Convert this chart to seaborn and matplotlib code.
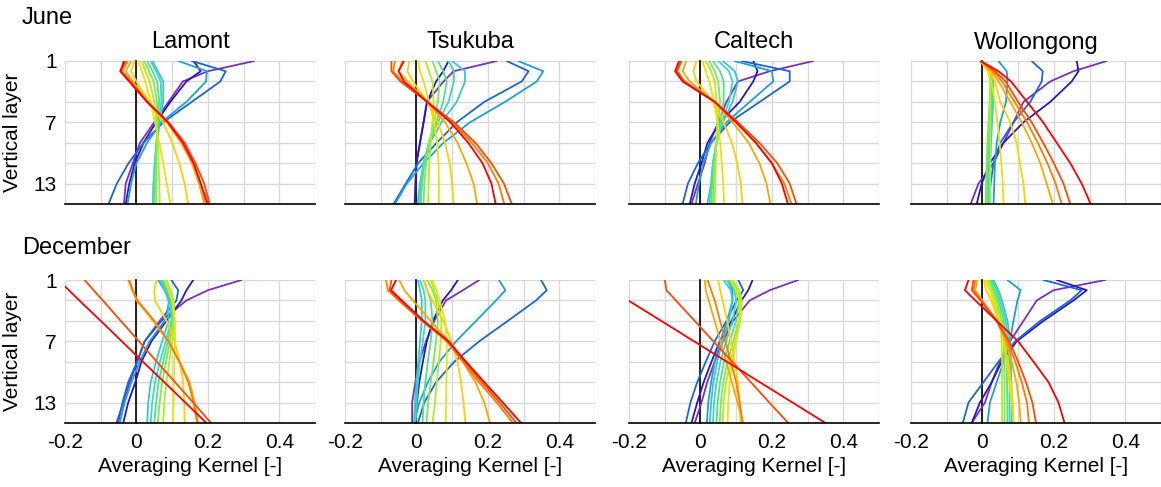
import numpy as np
import pandas as pd
import matplotlib
matplotlib.use("Agg")
import matplotlib.pyplot as plt
import seaborn as sns

# ---------------- data ----------------
layers = [1, 2, 3, 5, 7, 9, 11, 13, 15]
sites = ["Lamont", "Tsukuba", "Caltech", "Wollongong"]
months = ["June", "December"]
xticks_labelled = [-0.2, 0, 0.2, 0.4]
yticks_labelled = [1, 7, 13]

colors = ["#7b2fbe", "#2b14c8", "#1a66d8", "#1aa0e0", "#3cc4d6",
          "#40d8b8", "#50e090", "#7ee858", "#b0ee20", "#e6e600",
          "#ffd000", "#ffa500", "#ff7a00", "#ff4a00", "#ff0000"]

lamont_june = [
    [0.33, 0.20, 0.13, 0.09, 0.05, 0.01, -0.01, -0.03, -0.035],
    [0.16, 0.18, 0.14, 0.095, 0.055, 0.02, -0.005, -0.02, -0.03],
    [0.155, 0.25, 0.235, 0.155, 0.075, 0.02, -0.022, -0.055, -0.078],
    [0.118, 0.197, 0.195, 0.14, 0.07, 0.03, 0.0, -0.015, -0.025],
    [0.045, 0.06, 0.075, 0.075, 0.065, 0.058, 0.052, 0.048, 0.046],
    [0.04, 0.055, 0.068, 0.07, 0.062, 0.056, 0.051, 0.048, 0.047],
    [0.03, 0.045, 0.058, 0.064, 0.06, 0.056, 0.052, 0.05, 0.049],
    [0.022, 0.035, 0.048, 0.058, 0.058, 0.057, 0.056, 0.055, 0.055],
    [0.015, 0.025, 0.037, 0.05, 0.056, 0.06, 0.062, 0.064, 0.065],
    [0.005, 0.015, 0.025, 0.04, 0.052, 0.064, 0.075, 0.085, 0.095],
    [-0.005, -0.015, 0.0, 0.035, 0.075, 0.1, 0.12, 0.135, 0.145],
    [-0.015, -0.03, -0.01, 0.032, 0.085, 0.125, 0.155, 0.175, 0.19],
    [-0.025, -0.04, -0.015, 0.03, 0.088, 0.13, 0.16, 0.18, 0.195],
    [-0.03, -0.045, -0.02, 0.03, 0.09, 0.135, 0.165, 0.19, 0.205],
    [-0.035, -0.045, -0.02, 0.03, 0.088, 0.13, 0.16, 0.18, 0.2],
]
tsukuba_june = [
    [0.225, 0.104, 0.076, 0.029, 0.02, 0.01, 0.0, -0.003, -0.004],
    [0.09, 0.075, 0.055, 0.03, 0.02, 0.01, 0.0, -0.002, -0.005],
    [0.253, 0.314, 0.295, 0.19, 0.113, 0.057, 0.005, -0.03, -0.064],
    [0.285, 0.355, 0.337, 0.248, 0.15, 0.076, 0.02, -0.027, -0.06],
    [0.1, 0.136, 0.136, 0.113, 0.07, 0.038, 0.02, 0.01, 0.003],
    [0.09, 0.105, 0.105, 0.09, 0.06, 0.035, 0.02, 0.012, 0.008],
    [0.06, 0.075, 0.085, 0.075, 0.055, 0.035, 0.022, 0.016, 0.012],
    [0.045, 0.055, 0.065, 0.06, 0.05, 0.035, 0.027, 0.022, 0.02],
    [0.025, 0.035, 0.045, 0.048, 0.045, 0.04, 0.036, 0.034, 0.033],
    [0.005, 0.01, 0.02, 0.035, 0.05, 0.058, 0.062, 0.063, 0.063],
    [-0.02, -0.025, -0.01, 0.03, 0.06, 0.08, 0.093, 0.1, 0.104],
    [-0.04, -0.05, -0.025, 0.03, 0.08, 0.115, 0.14, 0.16, 0.17],
    [-0.06, -0.065, -0.04, 0.03, 0.1, 0.155, 0.2, 0.23, 0.246],
    [-0.07, -0.07, -0.045, 0.03, 0.105, 0.165, 0.21, 0.245, 0.267],
    [-0.035, -0.05, -0.035, 0.03, 0.095, 0.145, 0.185, 0.21, 0.222],
]
caltech_june = [
    [0.316, 0.194, 0.105, 0.073, 0.05, 0.026, 0.012, -0.007, -0.025],
    [0.148, 0.16, 0.148, 0.11, 0.054, 0.02, 0.003, -0.016, -0.03],
    [0.115, 0.25, 0.25, 0.166, 0.082, 0.03, -0.007, -0.035, -0.05],
    [0.096, 0.2, 0.204, 0.138, 0.073, 0.03, 0.008, -0.004, -0.013],
    [0.063, 0.096, 0.105, 0.09, 0.063, 0.045, 0.035, 0.03, 0.019],
    [0.05, 0.08, 0.09, 0.08, 0.06, 0.045, 0.035, 0.03, 0.025],
    [0.035, 0.055, 0.065, 0.065, 0.055, 0.045, 0.038, 0.033, 0.03],
    [0.025, 0.04, 0.05, 0.055, 0.05, 0.045, 0.04, 0.037, 0.035],
    [0.015, 0.03, 0.04, 0.045, 0.047, 0.045, 0.043, 0.041, 0.04],
    [0.005, 0.015, 0.025, 0.038, 0.048, 0.055, 0.06, 0.064, 0.066],
    [-0.011, -0.02, -0.01, 0.035, 0.065, 0.088, 0.103, 0.113, 0.118],
    [-0.04, -0.05, -0.03, 0.04, 0.09, 0.135, 0.165, 0.185, 0.196],
    [-0.055, -0.068, -0.045, 0.04, 0.1, 0.155, 0.2, 0.235, 0.255],
    [-0.053, -0.065, -0.045, 0.04, 0.105, 0.165, 0.215, 0.25, 0.269],
    [-0.06, -0.071, -0.05, 0.04, 0.1, 0.155, 0.2, 0.228, 0.245],
]
wollongong_june = [
    [0.348, 0.255, 0.19, 0.115, 0.087, 0.059, 0.031, -0.011, -0.033],
    [0.264, 0.269, 0.25, 0.19, 0.115, 0.059, 0.021, -0.002, -0.016],
    [0.138, 0.169, 0.166, 0.134, 0.087, 0.05, 0.031, 0.023, 0.017],
    [0.045, 0.068, 0.07, 0.066, 0.05, 0.04, 0.035, 0.033, 0.031],
    [-0.005, 0.025, 0.03, 0.03, 0.027, 0.024, 0.022, 0.021, 0.02],
    [-0.005, 0.022, 0.027, 0.027, 0.024, 0.021, 0.019, 0.018, 0.017],
    [-0.005, 0.02, 0.024, 0.023, 0.02, 0.017, 0.015, 0.013, 0.012],
    [-0.005, 0.018, 0.022, 0.02, 0.017, 0.014, 0.012, 0.01, 0.009],
    [-0.005, 0.016, 0.022, 0.022, 0.022, 0.022, 0.022, 0.022, 0.022],
    [-0.005, 0.015, 0.025, 0.035, 0.042, 0.048, 0.053, 0.057, 0.059],
    [-0.005, 0.02, 0.035, 0.05, 0.078, 0.096, 0.105, 0.115, 0.12],
    [-0.005, 0.025, 0.045, 0.078, 0.11, 0.138, 0.162, 0.18, 0.197],
    [-0.005, 0.03, 0.055, 0.09, 0.125, 0.155, 0.182, 0.205, 0.222],
    [-0.005, 0.035, 0.065, 0.1, 0.138, 0.17, 0.2, 0.227, 0.246],
    [-0.005, 0.045, 0.08, 0.125, 0.17, 0.208, 0.246, 0.278, 0.303],
]
lamont_dec = [
    [0.294, 0.2, 0.14, 0.07, 0.023, 0.002, -0.019, -0.037, -0.056],
    [0.159, 0.14, 0.126, 0.084, 0.042, 0.014, -0.003, -0.023, -0.037],
    [0.098, 0.117, 0.112, 0.065, 0.023, 0.002, -0.023, -0.039, -0.051],
    [0.061, 0.079, 0.093, 0.079, 0.037, 0.009, -0.014, -0.033, -0.047],
    [0.065, 0.08, 0.09, 0.09, 0.072, 0.055, 0.04, 0.033, 0.03],
    [0.07, 0.085, 0.095, 0.098, 0.082, 0.066, 0.052, 0.044, 0.04],
    [0.075, 0.09, 0.1, 0.1, 0.088, 0.075, 0.062, 0.055, 0.05],
    [0.08, 0.092, 0.102, 0.103, 0.094, 0.083, 0.072, 0.065, 0.06],
    [0.085, 0.095, 0.105, 0.106, 0.1, 0.092, 0.084, 0.078, 0.075],
    [0.08, 0.09, 0.1, 0.108, 0.108, 0.106, 0.105, 0.104, 0.103],
    [0.056, 0.05, 0.052, 0.084, 0.107, 0.121, 0.131, 0.134, 0.135],
    [-0.023, -0.012, 0.0, 0.047, 0.089, 0.121, 0.149, 0.163, 0.173],
    [-0.02, -0.01, 0.003, 0.05, 0.09, 0.12, 0.145, 0.16, 0.17],
    [-0.145, -0.12, -0.094, -0.044, 0.007, 0.057, 0.108, 0.159, 0.209],
    [-0.219, -0.189, -0.16, -0.1, -0.041, 0.018, 0.078, 0.137, 0.196],
]
tsukuba_dec = [
    [0.176, 0.13, 0.083, 0.05, 0.027, 0.008, -0.003, -0.012, -0.012],
    [0.116, 0.097, 0.074, 0.046, 0.029, 0.018, 0.008, 0.001, -0.003],
    [0.349, 0.365, 0.335, 0.256, 0.176, 0.106, 0.055, 0.022, 0.004],
    [0.231, 0.249, 0.223, 0.167, 0.111, 0.064, 0.032, 0.008, -0.006],
    [0.004, 0.01, 0.015, 0.015, 0.01, 0.005, 0.0, -0.004, -0.007],
    [0.01, 0.02, 0.025, 0.025, 0.018, 0.01, 0.004, 0.0, -0.003],
    [0.02, 0.03, 0.04, 0.045, 0.04, 0.032, 0.025, 0.02, 0.017],
    [0.03, 0.045, 0.055, 0.06, 0.055, 0.048, 0.04, 0.033, 0.028],
    [0.04, 0.05, 0.06, 0.07, 0.068, 0.063, 0.057, 0.052, 0.045],
    [0.045, 0.055, 0.065, 0.08, 0.085, 0.085, 0.084, 0.083, 0.082],
    [0.022, 0.03, 0.045, 0.075, 0.098, 0.115, 0.125, 0.132, 0.137],
    [-0.048, -0.034, -0.01, 0.04, 0.09, 0.13, 0.165, 0.19, 0.206],
    [-0.085, -0.08, -0.05, 0.015, 0.085, 0.13, 0.175, 0.225, 0.27],
    [-0.07, -0.075, -0.046, 0.018, 0.088, 0.135, 0.183, 0.233, 0.28],
    [-0.057, -0.071, -0.041, 0.02, 0.09, 0.139, 0.19, 0.242, 0.293],
]
caltech_dec = [
    [0.274, 0.194, 0.138, 0.092, 0.063, 0.04, 0.019, 0.003, -0.016],
    [0.146, 0.134, 0.115, 0.087, 0.054, 0.031, 0.009, -0.009, -0.025],
    [0.106, 0.12, 0.101, 0.073, 0.04, 0.015, -0.009, -0.028, -0.041],
    [0.075, 0.09, 0.09, 0.075, 0.055, 0.04, 0.03, 0.022, 0.018],
    [0.065, 0.085, 0.09, 0.08, 0.062, 0.047, 0.036, 0.03, 0.026],
    [0.075, 0.095, 0.1, 0.09, 0.072, 0.056, 0.045, 0.038, 0.035],
    [0.08, 0.1, 0.108, 0.1, 0.082, 0.066, 0.055, 0.048, 0.045],
    [0.085, 0.105, 0.113, 0.108, 0.092, 0.076, 0.064, 0.057, 0.054],
    [0.09, 0.108, 0.116, 0.112, 0.098, 0.084, 0.072, 0.065, 0.062],
    [0.085, 0.1, 0.11, 0.11, 0.1, 0.09, 0.082, 0.078, 0.076],
    [0.05, 0.055, 0.062, 0.075, 0.085, 0.095, 0.105, 0.11, 0.112],
    [0.012, 0.015, 0.023, 0.04, 0.056, 0.072, 0.088, 0.104, 0.12],
    [0.02, 0.03, 0.04, 0.055, 0.07, 0.085, 0.1, 0.11, 0.118],
    [-0.1, -0.095, -0.069, -0.016, 0.036, 0.089, 0.141, 0.193, 0.246],
    [-0.295, -0.248, -0.202, -0.11, -0.018, 0.074, 0.166, 0.258, 0.35],
]
wollongong_dec = [
    [0.344, 0.199, 0.152, 0.115, 0.077, 0.049, 0.026, 0.007, -0.03],
    [0.208, 0.292, 0.255, 0.171, 0.096, 0.054, 0.026, -0.007, -0.03],
    [0.171, 0.278, 0.246, 0.162, 0.092, 0.045, 0.003, -0.039, -0.055],
    [0.07, 0.107, 0.098, 0.087, 0.077, 0.059, 0.04, 0.021, 0.014],
    [0.031, 0.045, 0.055, 0.07, 0.078, 0.08, 0.081, 0.082, 0.082],
    [0.027, 0.04, 0.05, 0.065, 0.073, 0.075, 0.076, 0.076, 0.076],
    [0.023, 0.035, 0.045, 0.06, 0.066, 0.068, 0.069, 0.07, 0.07],
    [0.02, 0.03, 0.04, 0.055, 0.06, 0.061, 0.062, 0.062, 0.062],
    [0.015, 0.025, 0.035, 0.05, 0.054, 0.055, 0.055, 0.055, 0.055],
    [0.01, 0.02, 0.03, 0.048, 0.06, 0.068, 0.075, 0.082, 0.087],
    [0.005, 0.01, 0.025, 0.045, 0.06, 0.072, 0.08, 0.085, 0.087],
    [-0.015, -0.02, 0.0, 0.04, 0.065, 0.082, 0.095, 0.103, 0.107],
    [-0.02, -0.025, -0.003, 0.04, 0.07, 0.092, 0.11, 0.125, 0.13],
    [-0.025, -0.03, -0.005, 0.04, 0.075, 0.1, 0.122, 0.14, 0.15],
    [-0.039, -0.049, -0.02, 0.04, 0.1, 0.143, 0.185, 0.213, 0.23],
]

panels = {
    ("June", "Lamont"): lamont_june, ("June", "Tsukuba"): tsukuba_june,
    ("June", "Caltech"): caltech_june, ("June", "Wollongong"): wollongong_june,
    ("December", "Lamont"): lamont_dec, ("December", "Tsukuba"): tsukuba_dec,
    ("December", "Caltech"): caltech_dec, ("December", "Wollongong"): wollongong_dec,
}

# ---------------- style ----------------
sns.set_style("white")
plt.rcParams["font.family"] = ["Liberation Sans", "DejaVu Sans"]
plt.rcParams["axes.unicode_minus"] = False
plt.rcParams["text.color"] = "black"
plt.rcParams["axes.labelcolor"] = "black"
plt.rcParams["xtick.labelcolor"] = "black"
plt.rcParams["ytick.labelcolor"] = "black"

W, H = 1161, 487
fig = plt.figure(figsize=(W / 100, H / 100), dpi=100)
lefts = [65, 345, 629, 911]
tops = [61, 280]
pw, ph = 250, 143
hue_names = [f"c{k:02d}" for k in range(len(colors))]
pal = dict(zip(hue_names, colors))


def fmt(v, pos=None):
    r = round(v, 1)
    if any(abs(r - t) < 1e-9 for t in xticks_labelled):
        return "0" if abs(r) < 1e-9 else f"{r:g}"
    return ""


for r, month in enumerate(months):
    for c, site in enumerate(sites):
        ax = fig.add_axes([lefts[c] / W, 1 - (tops[r] + ph) / H, pw / W, ph / H])
        data = panels[(month, site)]
        rows = [(hue_names[k], L, v) for k, curve in enumerate(data)
                for L, v in zip(layers, curve)]
        df = pd.DataFrame(rows, columns=["curve", "layer", "value"])
        sns.lineplot(data=df, x="value", y="layer", hue="curve", palette=pal,
                     hue_order=hue_names, sort=False, estimator=None,
                     legend=False, linewidth=1.3, ax=ax)
        ax.set_xlim(-0.2, 0.5)
        ax.set_ylim(15, 1)
        ax.set_xticks(np.round(np.arange(-0.2, 0.51, 0.1), 1))
        ax.set_yticks(np.arange(1, 16, 2))
        ax.grid(True, color="#d9d9d9", linewidth=1.0)
        ax.set_axisbelow(True)
        for s in ("top", "right"):
            ax.spines[s].set_visible(False)
        ax.spines["left"].set_position(("data", 0))
        ax.spines["left"].set_color("black")
        ax.spines["left"].set_linewidth(1.2)
        ax.spines["left"].set_zorder(1.5)
        ax.spines["bottom"].set_color("black")
        ax.spines["bottom"].set_linewidth(1.2)
        ax.tick_params(axis="y", direction="out", length=3, width=1,
                       color="#404040", labelleft=False)
        ax.tick_params(axis="x", direction="out", length=4, width=1,
                       color="#404040", labelsize=15, pad=3)
        if r == 1:
            ax.xaxis.set_major_formatter(plt.FuncFormatter(fmt))
            ax.set_xlabel("Averaging Kernel [-]", fontsize=15, labelpad=4,
                          color="black")
        else:
            ax.tick_params(axis="x", labelbottom=False)
            ax.set_xlabel("")
            ax.set_title(site, fontsize=17, pad=9, color="black")
        ax.set_ylabel("")
        if c == 0:
            sec = ax.secondary_yaxis(0.0)
            sec.set_yticks(yticks_labelled)
            sec.tick_params(length=0, labelsize=15, pad=6, labelcolor="black")
            sec.spines["left"].set_visible(False)
            sec.set_ylabel("Vertical layer", fontsize=15, labelpad=8,
                           color="black")

fig.text(22 / W, 1 - 18 / H, "June", fontsize=17, ha="left", va="center",
         color="black")
fig.text(22 / W, 1 - 248 / H, "December", fontsize=17, ha="left",
         va="center", color="black")

fig.savefig("out.png", dpi=100)
